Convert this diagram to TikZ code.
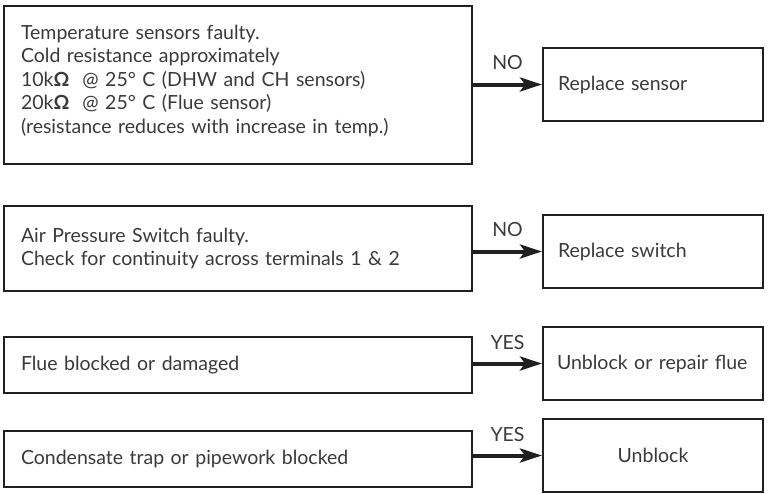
\documentclass[tikz,border=0pt]{standalone}
\usepackage{fontspec}
\setmainfont{Lato}
\usepackage{tikz}
\usetikzlibrary{arrows.meta,positioning}
\definecolor{inkline}{HTML}{231F20}
\definecolor{inktext}{HTML}{3A3A3A}
\tikzset{
faultbox/.style={draw=inkline,line width=2pt,text=inktext,align=left,
  text width=434pt,inner xsep=17pt,font=\fontsize{19.5}{23.5}\selectfont},
actbox/.style={draw=inkline,line width=2pt,text=inktext,align=left,
  text width=198pt,inner xsep=11pt,minimum height=73pt,font=\fontsize{19.5}{23.5}\selectfont},
answer/.style={line width=4pt,draw=inkline,-{Stealth[length=22pt,width=14pt,inset=5pt]}},
answertxt/.style={text=inktext,font=\fontsize{19.5}{22}\selectfont}
}
\begin{document}
\begin{tikzpicture}[x=1pt,y=-1pt]
\useasboundingbox(0,0)rectangle(771,493);
% left column: faults
\node[faultbox,minimum height=158pt](temp)at(238,85){Temperature sensors faulty.\\
Cold resistance approximately\\
10k{\bfseries Ω}\ \ @ 25° C (DHW and CH sensors)\\
20k{\bfseries Ω}\ \ @ 25° C (Flue sensor)\\
(resistance reduces with increase in temp.)\\[-12pt]\mbox{}};
\node[faultbox,minimum height=85pt](aps)at(238,248.5){Air Pressure Switch faulty.\\
Check for continuity across terminals 1 \& 2};
\node[faultbox,minimum height=56pt](flue)at(238,365){Flue blocked or damaged};
\node[faultbox,minimum height=56pt](trap)at(238,459){Condensate trap or pipework blocked};
% right column: actions
\node[actbox](rsensor)at(653,84.5){\hspace{4pt}Replace sensor};
\node[actbox](rswitch)at(653,251.5){\hspace{4pt}Replace switch};
\node[actbox](repair)at(653,363.5){\hspace{3pt}Unblock or repair flue};
\node[actbox,align=center](unblock)at(653,455.5){Unblock};
% answers
\draw[answer](temp.east|-rsensor)--(rsensor.west)node[midway,above=10pt,answertxt]{NO};
\draw[answer](aps.east|-rswitch)--(rswitch.west)node[midway,above=10pt,answertxt]{NO};
\draw[answer](flue.east|-repair)--(repair.west)node[midway,above=9pt,answertxt]{YES};
\draw[answer](trap.east|-unblock)--(unblock.west)node[midway,above=9pt,answertxt]{YES};
\end{tikzpicture}
\end{document}
